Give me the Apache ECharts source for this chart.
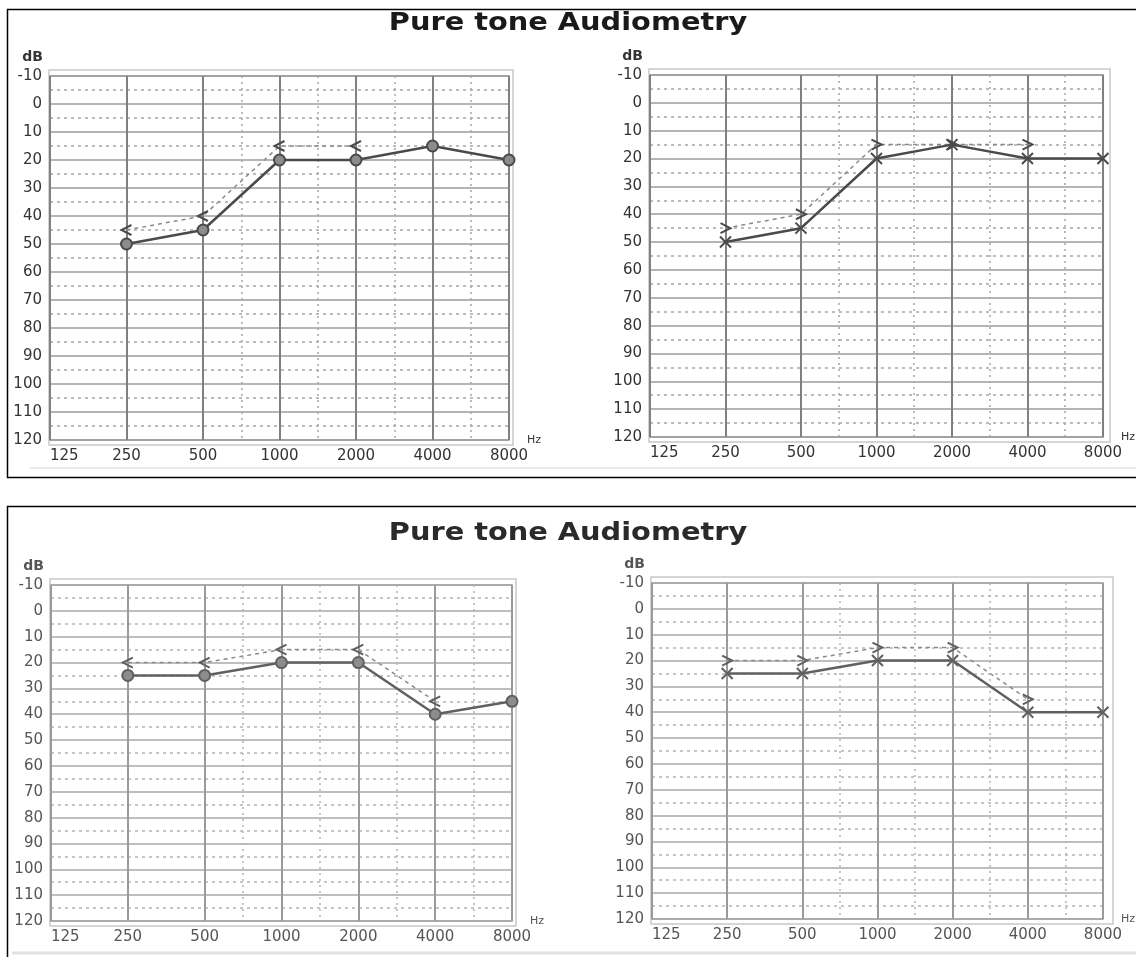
<!DOCTYPE html>
<html><head><meta charset="utf-8">
<script src="https://cdn.jsdelivr.net/npm/echarts@6/dist/echarts.min.js"></script>
<style>html,body{margin:0;padding:0;background:#fff}#c{width:1136px;height:957px}</style>
</head><body><div id="c"></div>
<script>
// ---- data ----
const freqLabels = ['125','250','500','1000','2000','4000','8000'];
const testFreqs = ['250','500','1000','2000','4000','8000'];
const halfOctaveAfter = ['500','1000','2000','4000'];
const titleText = 'Pure tone Audiometry';
// thresholds in dB per test frequency (null = no mark)
const topLeftAir   = [50,45,20,20,15,20];
const topLeftBone  = [45,40,15,15,null,null];
const topRightAir  = [50,45,20,15,20,20];
const topRightBone = [45,40,15,15,15,null];
const botLeftAir   = [25,25,20,20,40,35];
const botLeftBone  = [20,20,15,15,35,null];
const botRightAir  = [25,25,20,20,40,40];
const botRightBone = [20,20,15,15,35,null];

// ---- helpers ----
const idx = f => freqLabels.indexOf(f);
const pairs = vals => testFreqs.map((f,i)=>[idx(f), vals[i]]).filter(p=>p[1]!==null);
const SYM_O = 'circle';
const SYM_X = 'path://M0,0L10,10M10,0L0,10';
const SYM_LT = 'path://M10,0L0,5L10,10';
const SYM_GT = 'path://M0,0L10,5L0,10';
const FONT = 'DejaVu Sans';

const charts = [
  {grid:{left:50,top:76,width:459,height:364}, air:topLeftAir, bone:topLeftBone, airSym:SYM_O, boneSym:SYM_LT, faded:false},
  {grid:{left:650,top:75,width:456,height:362}, air:topRightAir, bone:topRightBone, airSym:SYM_X, boneSym:SYM_GT, faded:false},
  {grid:{left:51,top:585,width:461,height:336}, air:botLeftAir, bone:botLeftBone, airSym:SYM_O, boneSym:SYM_LT, faded:true},
  {grid:{left:652,top:583,width:457,height:336}, air:botRightAir, bone:botRightBone, airSym:SYM_X, boneSym:SYM_GT, faded:true}
];

const grids=[], xAxes=[], yAxes=[], series=[], graphics=[];
charts.forEach((c,i)=>{
  const vCol = c.faded ? '#9a9a9a' : '#808080';
  const hCol = c.faded ? '#a8a8a8' : '#9c9c9c';
  const dCol = c.faded ? '#b4b4b4' : '#a6a6a6';
  const lineCol = c.faded ? '#606060' : '#4a4a4a';
  const txtCol = c.faded ? '#555' : '#333';
  grids.push(Object.assign({show:true, borderColor:'#9a9a9a', borderWidth:1.5, backgroundColor:'#fff'}, c.grid));
  graphics.push({type:'rect', z:-1, shape:{x:c.grid.left-1, y:c.grid.top-6, width:c.grid.width+5, height:c.grid.height+11},
    style:{fill:'none', stroke:'#c8c8c8', lineWidth:1.5}});
  xAxes.push({gridIndex:i, type:'value', position:'bottom', min:0, max:6, interval:1,
    axisLine:{show:false, onZero:false}, axisTick:{show:false},
    axisLabel:{formatter:v=>freqLabels[v]||'', margin:9, fontSize:15, color:txtCol, fontFamily:FONT, alignMinLabel:'left'},
    splitLine:{show:true, lineStyle:{color:vCol, width:2}},
    name:'Hz', nameLocation:'end', nameGap:18, nameTextStyle:{fontSize:11, color:txtCol, fontFamily:FONT}});
  yAxes.push({gridIndex:i, type:'value', inverse:true, min:-10, max:120, interval:10,
    axisLine:{show:false, onZero:false}, axisTick:{show:false},
    axisLabel:{margin:8, fontSize:15, color:txtCol, fontFamily:FONT},
    splitLine:{show:true, lineStyle:{color:hCol, width:1.5}},
    minorTick:{show:false, splitNumber:2},
    minorSplitLine:{show:true, lineStyle:{color:dCol, width:1.5, type:[3,4]}},
    name:'dB', nameLocation:'start', nameGap:12,
    nameTextStyle:{fontSize:14, fontWeight:'bold', color:txtCol, fontFamily:FONT, align:'right', padding:[0,7,0,0]}});
  series.push({type:'line', xAxisIndex:i, yAxisIndex:i, data:pairs(c.bone),
    symbol:c.boneSym, symbolSize:[10,10], showAllSymbol:true,
    lineStyle:{color:'#8a8a8a', width:1.5, type:[4,4]},
    itemStyle:{color:'none', borderColor:lineCol, borderWidth:2},
    z:4, silent:true, animation:false,
    markLine:{silent:true, symbol:['none','none'], label:{show:false}, animation:false,
      lineStyle:{color:dCol, width:1.5, type:[2,4]},
      data: halfOctaveAfter.map(f=>({xAxis: idx(f)+0.5}))}});
  series.push({type:'line', xAxisIndex:i, yAxisIndex:i, data:pairs(c.air),
    symbol:c.airSym, symbolSize:11, showAllSymbol:true,
    lineStyle:{color:lineCol, width:2.5},
    itemStyle:{color: c.airSym===SYM_O ? '#8c8c8c' : 'none', borderColor:lineCol, borderWidth:2},
    z:5, silent:true, animation:false});
});

// panel frames, titles, faint rules
graphics.push({type:'rect', z:10, shape:{x:7.5,y:9.5,width:1140,height:468}, style:{fill:'none', stroke:'#000', lineWidth:1.5}});
graphics.push({type:'rect', z:10, shape:{x:7.5,y:506.5,width:1140,height:460}, style:{fill:'none', stroke:'#000', lineWidth:1.5}});
graphics.push({type:'line', z:-2, shape:{x1:30,y1:468,x2:1136,y2:468}, style:{stroke:'#e2e2e2', lineWidth:1.5}});
graphics.push({type:'line', z:-2, shape:{x1:12,y1:953,x2:1136,y2:953}, style:{stroke:'#e2e2e2', lineWidth:3}});
[[568,24,'#1a1a1a'],[568,534,'#2a2a2a']].forEach(([x,y,col])=>{
  graphics.push({type:'text', z:10, x:x, y:y, scaleX:1.2,
    style:{text:titleText, font:'bold 24px "DejaVu Sans"', fill:col, textAlign:'center', textVerticalAlign:'middle'}});
});

const chart = echarts.init(document.getElementById('c'), null, {renderer:'canvas'});
chart.setOption({animation:false, backgroundColor:'#fff', grid:grids, xAxis:xAxes, yAxis:yAxes, series:series, graphic:graphics});
</script></body></html>
